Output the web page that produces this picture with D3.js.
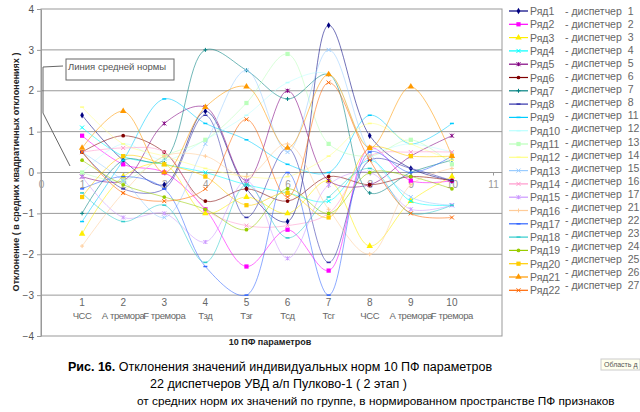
<!DOCTYPE html><html><head><meta charset="utf-8">
<script src="https://cdn.jsdelivr.net/npm/d3@7"></script>
<style>body{margin:0;background:#fff}text{font-family:"Liberation Sans",Arial,sans-serif}</style></head><body>
<svg id="c" width="640" height="412"></svg>
<script>
const categories=["ЧСС","А тремора","F тремора","Тзд","Тзг","Тсд","Тсг","ЧСС","А тремора","F тремора"];
const seriesNames=["Ряд1","Ряд2","Ряд3","Ряд4","Ряд5","Ряд6","Ряд7","Ряд8","Ряд9","Ряд10","Ряд11","Ряд12","Ряд13","Ряд14","Ряд15","Ряд16","Ряд17","Ряд18","Ряд19","Ряд20","Ряд21","Ряд22"];
const dispatchers=[1,2,3,4,5,6,7,8,11,12,13,14,15,16,17,21,22,23,24,25,26,27];
const R1=[1.4,0.3,-0.3,1.5,-0.4,-1.2,3.6,0.9,0.1,-0.2];
const R2=[0.9,0.2,0.0,-0.9,-2.3,-1.4,-2.4,0.6,-0.2,-0.2];
const R3=[-1.5,-0.1,0.2,-1.0,-0.6,-1.0,-0.2,-1.8,-0.7,-0.1];
const R4=[1.1,0.4,0.2,0.0,-0.3,-0.5,-0.7,0.3,-0.7,-0.8];
const R5=[-0.1,-0.2,1.2,1.6,-0.2,2.0,-0.2,-0.3,0.4,0.9];
const R6=[0.5,0.9,0.5,-0.7,-0.4,-0.7,-0.1,-0.3,-0.1,-0.2];
const R7=[-1.0,0.3,0.3,3.0,2.5,1.8,2.4,-0.5,0.0,0.3];
const R8=[0.5,-0.4,-0.4,1.4,-1.1,0.6,-2.2,0.3,0.1,-0.2];
const R9=[-1.2,0.3,1.8,1.2,0.8,0.2,0.0,1.4,0.7,1.2];
const R10=[0.0,0.7,0.3,0.8,1.4,2.2,2.4,0.6,0.7,0.5];
const R11=[0.0,-0.2,0.4,0.8,1.7,2.9,0.7,0.4,0.8,0.2];
const R12=[1.6,0.7,0.4,0.1,-0.1,-0.1,0.4,1.2,0.7,0.3];
const R13=[0.5,-0.2,-1.1,0.7,2.5,0.5,3.0,0.5,-0.6,-0.8];
const R14=[0.5,0.6,0.5,-0.9,-1.3,-1.3,-1.0,0.4,0.5,0.5];
const R15=[-0.1,-1.1,-1.0,-1.7,-0.2,-2.1,-0.3,0.0,-0.9,-0.8];
const R16=[-1.8,-0.5,0.4,0.4,-0.1,0.7,-0.9,-2.0,-0.3,0.1];
const R17=[-0.4,-0.1,-0.4,-2.3,-3.0,0.0,-3.0,0.5,0.0,0.4];
const R18=[-0.5,-1.2,-0.8,-2.2,-0.3,-1.6,-0.6,0.1,-1.0,-0.8];
const R19=[0.3,-0.3,-0.6,-0.9,-1.4,-0.4,-1.0,0.0,-0.1,-0.4];
const R20=[-0.6,0.4,0.2,-0.1,-0.8,-0.5,-1.1,0.6,0.4,0.4];
const R21=[0.6,1.5,0.0,1.6,2.1,0.6,2.4,0.6,2.1,0.4];
const R22=[0.5,-0.5,-0.7,-0.4,1.3,-0.6,2.2,0.3,-1.0,-1.1];
const values=[R1,R2,R3,R4,R5,R6,R7,R8,R9,R10,R11,R12,R13,R14,R15,R16,R17,R18,R19,R20,R21,R22];
const colors=["#000080","#FF00FF","#FFEE00","#00FFFF","#800080","#800000","#008080","#3333AA","#00CCFF","#BBFFFF","#BBFFBB","#FFFF88","#99CCFF","#FF99CC","#CC99FF","#FFCC99","#3366FF","#33CCCC","#99CC00","#FFCC00","#FF9900","#FF6600"];
const shapes=["diamond","square","triangle","x","star","circle","plus","dash","dash","dash","square","dash","x","x","star","plus","dash","dash","circle","square","triangle","x"];
const yTicks=[-4,-3,-2,-1,0,1,2,3,4];
const xTicks=[0,1,2,3,4,5,6,7,8,9,10,11];

const svg=d3.select("#c");
const x=d3.scaleLinear().domain([0,11]).range([41,493]);
const y=d3.scaleLinear().domain([-4,4]).range([336,9]);
const L=41,R=502,T=9,B=336;
svg.append("rect").attr("x",L).attr("y",T).attr("width",R-L).attr("height",B-T).attr("fill","#fff").attr("stroke","#999");
svg.append("g").selectAll("line").data(yTicks.filter(v=>v>-4&&v<4)).join("line")
 .attr("x1",L).attr("x2",R).attr("y1",d=>y(d)).attr("y2",d=>y(d)).attr("stroke","#999").attr("stroke-width",1);
const ya=svg.append("g").attr("transform",`translate(${L},0)`).call(d3.axisLeft(y).tickValues(yTicks).tickSize(4).tickSizeOuter(0));
ya.select(".domain").attr("stroke","#999");ya.selectAll("line").attr("stroke","#999");
ya.selectAll("text").attr("fill","#555").style("font-size","10px");
const xa=svg.append("g").attr("transform",`translate(0,${y(0)})`).call(d3.axisBottom(x).tickValues(xTicks).tickSize(3).tickSizeOuter(0));
xa.select(".domain").remove();xa.selectAll("line").attr("stroke","#999");
xa.selectAll("text").attr("fill","#999").style("font-size","10px").attr("dy","0.9em");
const cat=svg.append("g");
categories.forEach((c,i)=>{
 cat.append("text").attr("x",x(i+1)).attr("y",306).attr("text-anchor","middle").attr("fill","#666").style("font-size","10px").text(i+1);
 cat.append("text").attr("x",x(i+1)).attr("y",319).attr("text-anchor","middle").attr("fill","#666").style("font-size","9.5px").style("letter-spacing","-0.4px").text(c);
});
const line=d3.line().x((d,i)=>x(i+1)).y(d=>y(d)).curve(d3.curveCatmullRom.alpha(0.5));
function marker(g,shape,col,cx,cy){
 const s=2;
 if(shape==="x"){g.append("path").attr("d",`M${cx-s},${cy-s}L${cx+s},${cy+s}M${cx-s},${cy+s}L${cx+s},${cy-s}`).attr("stroke",col).attr("stroke-width",1);return;}
 if(shape==="plus"){g.append("path").attr("d",`M${cx-s},${cy}L${cx+s},${cy}M${cx},${cy-s}L${cx},${cy+s}`).attr("stroke",col).attr("stroke-width",1);return;}
 if(shape==="dash"){g.append("path").attr("d",`M${cx-s},${cy}L${cx+s},${cy}`).attr("stroke",col).attr("stroke-width",1.5);return;}
 if(shape==="star"){g.append("path").attr("d",`M${cx-s},${cy-s}L${cx+s},${cy+s}M${cx-s},${cy+s}L${cx+s},${cy-s}M${cx},${cy-s}L${cx},${cy+s}`).attr("stroke",col).attr("stroke-width",1);return;}
 const t={diamond:d3.symbolDiamond,square:d3.symbolSquare,triangle:d3.symbolTriangle,circle:d3.symbolCircle}[shape];
 const sz={diamond:12,square:18,triangle:18,circle:11}[shape];
 g.append("path").attr("d",d3.symbol(t,sz)()).attr("transform",`translate(${cx},${cy})`).attr("fill",col);
}
const plot=svg.append("g");
values.forEach((v,k)=>{
 plot.append("path").attr("d",line(v)).attr("fill","none").attr("stroke",colors[k]).attr("stroke-width",0.8).attr("opacity",0.7);
 v.forEach((d,i)=>marker(plot,shapes[k],colors[k],x(i+1),y(d)));
});
const lg=svg.append("g");
seriesNames.forEach((n,k)=>{
 const yy=11+k*13.3;
 lg.append("line").attr("x1",509).attr("x2",528).attr("y1",yy).attr("y2",yy).attr("stroke",colors[k]).attr("stroke-width",1.2);
 marker(lg,shapes[k],colors[k],518.5,yy);
 lg.append("text").attr("x",530).attr("y",yy+4).attr("fill","#666").style("font-size","10.5px").text(n);
});
dispatchers.forEach((d,k)=>{
 const yy=11+k*13.05;
 lg.append("text").attr("x",565).attr("y",yy+4).attr("fill","#666").style("font-size","10.5px").attr("xml:space","preserve").text("- диспетчер  "+d);
});
svg.append("rect").attr("x",66).attr("y",59).attr("width",108).attr("height",21).attr("fill","#fff").attr("stroke","#666");
svg.append("text").attr("x",68).attr("y",70).attr("fill","#555").style("font-size","9.5px").text("Линия средней нормы");
svg.append("path").attr("d","M63,66L43,67L43,113L70,166").attr("fill","none").attr("stroke","#666");
svg.append("text").attr("transform","translate(19,172) rotate(-90)").attr("text-anchor","middle").style("font-size","9px").style("font-weight","bold").attr("fill","#222").text("Отклонение ( в средних квадратичных отклонениях )");
svg.append("text").attr("x",270).attr("y",345).attr("text-anchor","middle").style("font-size","9px").style("font-weight","bold").attr("fill","#222").text("10 ПФ параметров");
const cap=svg.append("text").attr("x",68).attr("y",371).style("font-size","12.5px").attr("fill","#000");
cap.append("tspan").style("font-weight","bold").text("Рис. 16.");
cap.append("tspan").text(" Отклонения значений индивидуальных норм 10 ПФ параметров");
svg.append("text").attr("x",150).attr("y",388).style("font-size","12.5px").text("22 диспетчеров УВД а/п Пулково-1 ( 2 этап )");
svg.append("text").attr("x",137).attr("y",405).style("font-size","11.8px").text("от средних норм их значений по группе, в нормированном пространстве ПФ признаков");
svg.append("rect").attr("x",601).attr("y",359).attr("width",39).attr("height",11).attr("fill","#ffffee").attr("stroke","#ccc");
svg.append("text").attr("x",604).attr("y",367).style("font-size","7px").attr("fill","#555").text("Область д");
</script></body></html>
